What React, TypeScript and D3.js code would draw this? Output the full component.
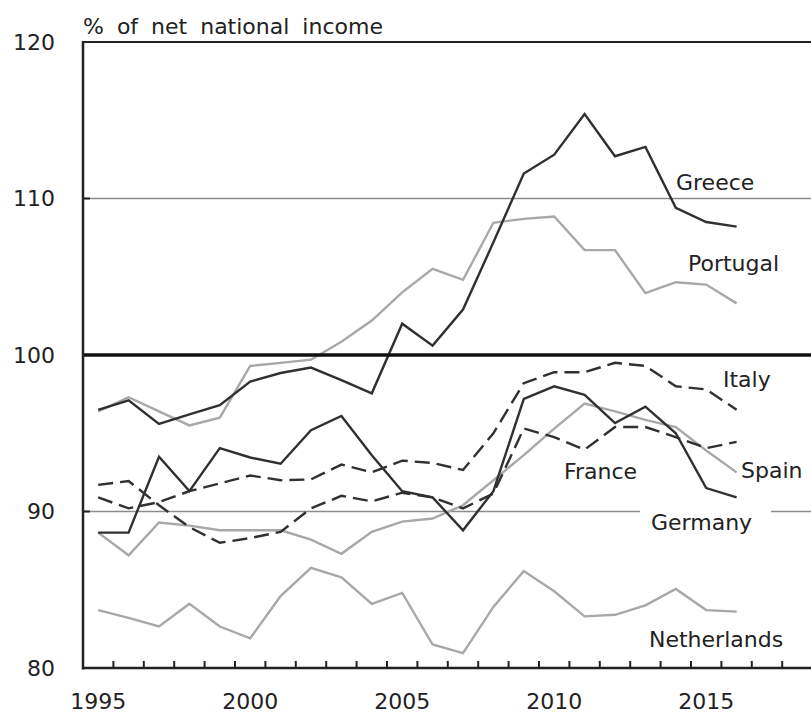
import React, { useEffect, useRef } from 'react'
import * as d3 from 'd3'

const years = d3.range(1995, 2017)
const axisYears = d3.range(1995, 2019)
const yTicks = [80, 90, 100, 110, 120]
const xLabels = [1995, 2000, 2005, 2010, 2015]

const greece = [96.5, 97.1, 95.6, 96.2, 96.8, 98.3, 98.85, 99.2, 98.4, 97.55, 102.0, 100.6, 102.9, 107.2, 111.6, 112.8, 115.4, 112.7, 113.3, 109.4, 108.5, 108.2]
const portugal = [96.4, 97.3, 96.4, 95.5, 96.0, 99.3, 99.5, 99.7, 100.85, 102.2, 104.0, 105.5, 104.8, 108.45, 108.7, 108.85, 106.7, 106.7, 103.95, 104.65, 104.5, 103.3]
const italy = [90.9, 90.2, 90.6, 91.3, 91.8, 92.3, 92.0, 92.05, 93.0, 92.5, 93.25, 93.1, 92.65, 95.0, 98.2, 98.9, 98.9, 99.5, 99.3, 98.0, 97.8, 96.5]
const france = [88.65, 88.65, 93.5, 91.3, 94.05, 93.45, 93.05, 95.2, 96.1, 93.6, 91.3, 90.9, 88.8, 91.3, 97.2, 98.0, 97.45, 95.65, 96.7, 95.0, 91.5, 90.9]
const spain = [88.65, 87.2, 89.3, 89.1, 88.8, 88.8, 88.8, 88.2, 87.3, 88.7, 89.35, 89.55, 90.4, 92.0, 93.6, 95.3, 96.9, 96.4, 95.85, 95.4, 93.9, 92.5]
const germany = [91.7, 91.95, 90.4, 89.0, 88.0, 88.3, 88.7, 90.2, 91.0, 90.65, 91.2, 90.9, 90.2, 91.15, 95.3, 94.75, 93.95, 95.4, 95.4, 94.75, 94.05, 94.45]
const netherlands = [83.7, 83.2, 82.65, 84.1, 82.65, 81.9, 84.6, 86.4, 85.8, 84.1, 84.8, 81.5, 80.95, 83.9, 86.2, 84.9, 83.3, 83.4, 84.0, 85.05, 83.7, 83.6]

const DARK = '#303030'
const LIGHT = '#a8a8a8'

const series = [
  { name: 'Netherlands', values: netherlands, color: LIGHT, dash: null, lx: 649, ly: 647 },
  { name: 'Spain', values: spain, color: LIGHT, dash: null, lx: 741, ly: 478 },
  { name: 'Portugal', values: portugal, color: LIGHT, dash: null, lx: 688, ly: 271 },
  { name: 'Germany', values: germany, color: DARK, dash: '15,7', lx: 651, ly: 530 },
  { name: 'Italy', values: italy, color: DARK, dash: '15,7', lx: 723, ly: 387 },
  { name: 'France', values: france, color: DARK, dash: null, lx: 564, ly: 479 },
  { name: 'Greece', values: greece, color: DARK, dash: null, lx: 676, ly: 190 },
]

const FONT = '"DejaVu Sans", Verdana, sans-serif'

export default function App() {
  const svgRef = useRef<SVGSVGElement>(null)

  useEffect(() => {
    if (!svgRef.current) return
    const svg = d3.select(svgRef.current)
    svg.selectAll('*').remove()

    const left = 83
    const top = 42
    const bottom = 668
    const step = 30.4

    const x = d3
      .scaleBand<number>()
      .domain(axisYears)
      .range([left, left + step * axisYears.length])
      .padding(0)
    const cx = (yr: number) => (x(yr) || 0) + x.bandwidth() / 2
    const y = d3.scaleLinear().domain([80, 120]).range([bottom, top])
    const right = left + step * axisYears.length

    // gridlines at 90 and 110
    ;[90, 110].forEach((v) => {
      svg
        .append('line')
        .attr('x1', left)
        .attr('x2', right)
        .attr('y1', y(v))
        .attr('y2', y(v))
        .attr('stroke', '#8c8c8c')
        .attr('stroke-width', 1.5)
    })

    // top border
    svg
      .append('line')
      .attr('x1', left)
      .attr('x2', right)
      .attr('y1', y(120))
      .attr('y2', y(120))
      .attr('stroke', '#222')
      .attr('stroke-width', 2)

    // y ticks (inward)
    yTicks.forEach((v) => {
      svg
        .append('line')
        .attr('x1', left)
        .attr('x2', left + 7)
        .attr('y1', y(v))
        .attr('y2', y(v))
        .attr('stroke', '#222')
        .attr('stroke-width', 2)
      svg
        .append('text')
        .attr('x', 55)
        .attr('y', y(v))
        .attr('dy', '0.36em')
        .attr('text-anchor', 'end')
        .style('font-family', FONT)
        .style('font-size', '22px')
        .style('fill', '#222')
        .text(v)
    })

    // x ticks at band boundaries
    axisYears.slice(1).forEach((yr) => {
      svg
        .append('line')
        .attr('x1', x(yr) || 0)
        .attr('x2', x(yr) || 0)
        .attr('y1', bottom)
        .attr('y2', bottom - 7)
        .attr('stroke', '#222')
        .attr('stroke-width', 2)
    })

    xLabels.forEach((yr) => {
      svg
        .append('text')
        .attr('x', cx(yr))
        .attr('y', 709)
        .attr('text-anchor', 'middle')
        .style('font-family', FONT)
        .style('font-size', '22px')
        .style('fill', '#222')
        .text(yr)
    })

    const line = d3
      .line<number>()
      .x((_, i) => cx(years[i]))
      .y((d) => y(d))

    series.forEach((s) => {
      svg
        .append('path')
        .datum(s.values)
        .attr('fill', 'none')
        .attr('stroke', s.color)
        .attr('stroke-width', 2.4)
        .attr('stroke-linejoin', 'miter')
        .attr('stroke-dasharray', s.dash)
        .attr('d', line)
    })

    // 100 reference line
    svg
      .append('line')
      .attr('x1', left)
      .attr('x2', right)
      .attr('y1', y(100))
      .attr('y2', y(100))
      .attr('stroke', '#111')
      .attr('stroke-width', 3.5)

    // axes
    svg
      .append('line')
      .attr('x1', left)
      .attr('x2', left)
      .attr('y1', top - 1)
      .attr('y2', bottom + 1.5)
      .attr('stroke', '#222')
      .attr('stroke-width', 2.5)
    svg
      .append('line')
      .attr('x1', left)
      .attr('x2', right)
      .attr('y1', bottom)
      .attr('y2', bottom)
      .attr('stroke', '#222')
      .attr('stroke-width', 2.5)

    // labels
    series.forEach((s) => {
      if (s.name === 'Germany') {
        svg
          .append('rect')
          .attr('x', 640)
          .attr('y', y(90) - 2)
          .attr('width', 131)
          .attr('height', 6)
          .attr('fill', 'white')
      }
      svg
        .append('text')
        .attr('x', s.lx)
        .attr('y', s.ly)
        .style('font-family', FONT)
        .style('font-size', '22px')
        .style('fill', '#222')
        .text(s.name)
    })

    svg
      .append('text')
      .attr('x', 83)
      .attr('y', 34)
      .style('font-family', FONT)
      .style('font-size', '22px')
      .style('word-spacing', '6px')
      .style('fill', '#222')
      .text('% of net national income')
  }, [])

  return (
    <svg
      ref={svgRef}
      width={811}
      height={718}
      style={{ position: 'absolute', left: 0, top: 0, background: 'white' }}
    />
  )
}
